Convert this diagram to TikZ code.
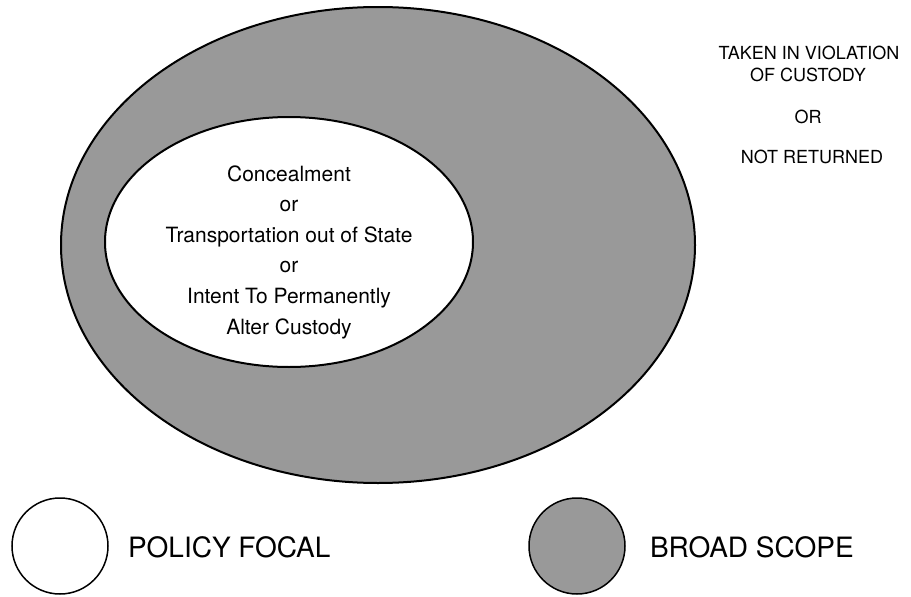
\documentclass[tikz,border=0pt]{standalone}
\usepackage{fontspec}
\setmainfont{TeX Gyre Heros}
\usetikzlibrary{shapes.geometric}
\begin{document}
\begin{tikzpicture}[x=1pt, y=-1pt, every node/.style={inner sep=0pt, outer sep=0pt}]
	\useasboundingbox (0,0) rectangle (911,597);
	
	\node[ellipse, draw, line width=2pt, fill=black!40, minimum width=634pt, minimum height=476pt] (broad) at (378,245) {};
	\node[ellipse, draw, line width=2pt, fill=white, minimum width=368pt, minimum height=250pt] (focal) at (289,242) {};
	
	\node[align=center, font=\fontsize{21}{30.6}\selectfont] (acts) at (289,252) {Concealment\\or\\Transportation out of State\\or\\Intent To Permanently\\Alter Custody};
	
	\node[font=\fontsize{18}{22}\selectfont] (taken) at (809,53) {TAKEN IN VIOLATION};
	\node[font=\fontsize{18}{22}\selectfont] (custody) at (808,75) {OF CUSTODY};
	\node[font=\fontsize{18}{22}\selectfont] (or) at (808,117) {OR};
	\node[font=\fontsize{18}{22}\selectfont] (notret) at (812,157) {NOT RETURNED};
	
	\node[circle, draw, line width=1.5pt, fill=white, minimum size=96pt] (keyfocal) at (60,546) {};
	\node[circle, draw, line width=1.5pt, fill=black!40, minimum size=96pt] (keybroad) at (577,546) {};
	\node[anchor=west, font=\fontsize{28}{30}\selectfont] (focaltext) at (128,547) {POLICY FOCAL};
	\node[anchor=west, font=\fontsize{28}{30}\selectfont] (broadtext) at (650,547) {BROAD SCOPE};
	
\end{tikzpicture}
\end{document}
